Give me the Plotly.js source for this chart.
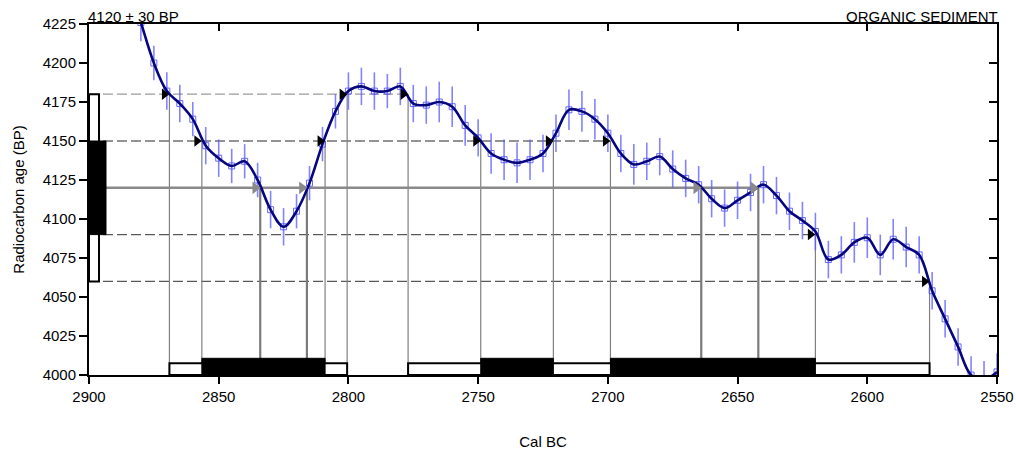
<!DOCTYPE html>
<html>
<head>
<meta charset="utf-8">
<script src="https://cdn.plot.ly/plotly-3.0.1.min.js"></script>
<style>
  html, body { margin: 0; padding: 0; background: #fff; }
  #chart { width: 1016px; height: 450px; }
</style>
</head>
<body>
<div id="chart"></div>
<script>
// ---------- data ----------
const calBC = [2885, 2880, 2875, 2870, 2865, 2860, 2855, 2850, 2845, 2840,
               2835, 2830, 2825, 2820, 2815, 2810, 2805, 2800, 2795, 2790,
               2785, 2780, 2775, 2770, 2765, 2760, 2755, 2750, 2745, 2740,
               2735, 2730, 2725, 2720, 2715, 2710, 2705, 2700, 2695, 2690,
               2685, 2680, 2675, 2670, 2665, 2660, 2655, 2650, 2645, 2640,
               2635, 2630, 2625, 2620, 2615, 2610, 2605, 2600, 2595, 2590,
               2585, 2580, 2575, 2570, 2565, 2560, 2555, 2550];
const bpAge = [4252, 4226, 4200, 4182, 4174, 4164, 4147, 4139, 4134, 4137,
               4125, 4106, 4095, 4105, 4123, 4148, 4169, 4182, 4185, 4182,
               4182, 4185, 4174, 4173, 4175, 4172, 4160, 4152, 4142, 4138,
               4136, 4138, 4142, 4155, 4170, 4169, 4164, 4155, 4142, 4135,
               4137, 4140, 4132, 4126, 4122, 4113, 4107, 4112, 4117, 4122,
               4115, 4105, 4099, 4092, 4074, 4077, 4085, 4088, 4077, 4087,
               4082, 4077, 4054, 4036, 4018, 4000, 3997, 4002];
const bpErr = [12, 12, 11, 12, 12, 11, 12, 12, 11, 11,
               11, 12, 12, 11, 11, 11, 11, 12, 12, 12,
               11, 12, 12, 12, 13, 13, 13, 12, 13, 13,
               13, 13, 12, 12, 13, 13, 13, 12, 12, 13,
               12, 12, 12, 12, 12, 12, 12, 12, 12, 12,
               12, 12, 12, 12, 12, 12, 13, 13, 13, 13,
               13, 12, 12, 12, 12, 12, 12, 12];

const sampleAge = 4120;
const sampleErr = 30;
const sampleLabel = sampleAge + ' \u00B1 ' + sampleErr + ' BP';
const materialLabel = 'ORGANIC SEDIMENT';

// range boundaries (cal BC) and the radiocarbon level where each is met
const sig2Bounds = [2869, 2800.5, 2777, 2576];
const sig2Levels = [4180, 4180, 4180, 4060];
const sig1Bounds = [2856.5, 2809, 2749, 2721, 2699, 2620];
const sig1Levels = [4150, 4150, 4150, 4150, 4150, 4090];
// intercepts of the measured age with the curve
const interceptYears = [2834, 2816, 2664, 2642];

const xTicks = [2900, 2850, 2800, 2750, 2700, 2650, 2600, 2550];
const yTicks = [4000, 4025, 4050, 4075, 4100, 4125, 4150, 4175, 4200, 4225];

// ---------- layout constants ----------
const W = 1016, H = 450;
const M = {l: 89, r: 19, t: 24, b: 75};
const xRange = [xTicks[0], xTicks[xTicks.length - 1]];
const yRange = [yTicks[0], yTicks[yTicks.length - 1]];
const pxPerYear = (W - M.l - M.r) / Math.abs(xRange[0] - xRange[1]);
const pxToYears = px => px / pxPerYear;
const FONT = 'Liberation Sans, Arial, Helvetica, sans-serif';
const arrowSize = 10;

// ---------- shapes ----------
const shapes = [];
const levels = [sampleAge + 2 * sampleErr, sampleAge + sampleErr,
                sampleAge - sampleErr, sampleAge - 2 * sampleErr];
const levelColors = ['#9c9c9c', '#707070', '#585858', '#585858'];
const allBounds = sig2Bounds.concat(sig1Bounds);
const allLevels = sig2Levels.concat(sig1Levels);

// dashed horizontal sigma levels (to the right-most crossing)
levels.forEach((lv, k) => {
  const xs = allBounds.filter((b, i) => allLevels[i] === lv);
  if (!xs.length) return;
  shapes.push({type: 'line', layer: 'below', xref: 'x', yref: 'y',
    x0: xRange[0], x1: Math.min.apply(null, xs), y0: lv, y1: lv,
    line: {color: levelColors[k], width: 1.3, dash: '10px,4px'}});
});

// vertical boundary drop lines
allBounds.forEach((b, i) => {
  shapes.push({type: 'line', layer: 'below', xref: 'x', yref: 'y',
    x0: b, x1: b, y0: allLevels[i], y1: yRange[0],
    line: {color: '#808080', width: 1.2}});
});

// measured age line and intercept drop lines
const leftBox1W = pxToYears(17), leftBox2W = pxToYears(10);
shapes.push({type: 'line', layer: 'below', xref: 'x', yref: 'y',
  x0: xRange[0] - leftBox1W, x1: Math.min.apply(null, interceptYears),
  y0: sampleAge, y1: sampleAge, line: {color: '#8a8a8a', width: 2.5}});
interceptYears.forEach(x => {
  shapes.push({type: 'line', layer: 'below', xref: 'x', yref: 'y',
    x0: x, x1: x, y0: sampleAge, y1: yRange[0],
    line: {color: '#7a7a7a', width: 2.2}});
});

// bottom range boxes: open = 2 sigma, filled = 1 sigma
for (let i = 0; i < sig2Bounds.length; i += 2) {
  shapes.push({type: 'rect', layer: 'below', xref: 'x', yref: 'y',
    x0: sig2Bounds[i], x1: sig2Bounds[i + 1], y0: yRange[0], y1: yRange[0] + 7.5,
    fillcolor: '#ffffff', line: {color: '#000000', width: 2}});
}
for (let i = 0; i < sig1Bounds.length; i += 2) {
  shapes.push({type: 'rect', layer: 'below', xref: 'x', yref: 'y',
    x0: sig1Bounds[i], x1: sig1Bounds[i + 1], y0: yRange[0], y1: yRange[0] + 10.7,
    fillcolor: '#000000', line: {color: '#000000', width: 1}});
}

// left-hand radiocarbon age boxes
shapes.push({type: 'rect', layer: 'below', xref: 'x', yref: 'y',
  x0: xRange[0], x1: xRange[0] - leftBox2W,
  y0: sampleAge - 2 * sampleErr, y1: sampleAge + 2 * sampleErr,
  fillcolor: '#ffffff', line: {color: '#000000', width: 2}});
shapes.push({type: 'rect', layer: 'below', xref: 'x', yref: 'y',
  x0: xRange[0], x1: xRange[0] - leftBox1W,
  y0: sampleAge - sampleErr, y1: sampleAge + sampleErr,
  fillcolor: '#000000', line: {color: '#000000', width: 1}});

// ---------- traces ----------
const arrowShift = pxToYears(arrowSize / 2);
const traces = [
  { // calibration points with error bars
    x: calBC, y: bpAge, type: 'scatter', mode: 'markers',
    marker: {symbol: 'square-open', size: 6, color: 'rgba(80,80,255,0.85)', line: {width: 1}},
    error_y: {type: 'data', array: bpErr, visible: true, color: 'rgba(90,90,255,0.75)', thickness: 1.6, width: 0},
    hoverinfo: 'skip', showlegend: false
  },
  { // calibration curve
    x: calBC, y: bpAge, type: 'scatter', mode: 'lines',
    line: {color: '#06067e', width: 2.6, shape: 'spline', smoothing: 1},
    hoverinfo: 'skip', showlegend: false
  },
  { // black arrows at range boundaries
    x: allBounds.map(b => b + arrowShift), y: allLevels, type: 'scatter', mode: 'markers',
    marker: {symbol: 'triangle-right', size: arrowSize, color: '#000000'},
    hoverinfo: 'skip', showlegend: false
  },
  { // grey arrows at intercepts
    x: interceptYears.map(b => b + arrowShift), y: interceptYears.map(() => sampleAge),
    type: 'scatter', mode: 'markers',
    marker: {symbol: 'triangle-right', size: arrowSize + 1, color: '#8a8a8a'},
    hoverinfo: 'skip', showlegend: false
  },
  { // binds the mirrored frame axes
    x: calBC, y: bpAge, xaxis: 'x2', yaxis: 'y2', type: 'scatter', mode: 'none',
    hoverinfo: 'skip', showlegend: false
  }
];

const axisCommon = {
  showgrid: false, zeroline: false, showline: true, linecolor: '#000', linewidth: 2,
  tickcolor: '#000', tickwidth: 2, ticklen: 8
};

const layout = {
  width: W, height: H,
  margin: M,
  paper_bgcolor: '#fff', plot_bgcolor: '#fff',
  font: {family: FONT, size: 15, color: '#000'},
  hovermode: false,
  showlegend: false,
  xaxis: Object.assign({}, axisCommon, {
    range: xRange, tickvals: xTicks, ticktext: xTicks.map(String), ticks: 'outside', ticklen: 7,
    tickfont: {family: FONT, size: 15, color: '#000'},
    title: {text: 'Cal BC', font: {family: FONT, size: 15, color: '#000'}, standoff: 32}
  }),
  yaxis: Object.assign({}, axisCommon, {
    range: yRange, tickvals: yTicks, ticktext: yTicks.map(String), ticks: 'outside',
    tickfont: {family: FONT, size: 15, color: '#000'},
    title: {text: 'Radiocarbon age (BP)', font: {family: FONT, size: 15, color: '#000'}, standoff: 14}
  }),
  xaxis2: Object.assign({}, axisCommon, {
    range: xRange, tickvals: xTicks, ticks: 'inside', ticklen: 7, side: 'top',
    overlaying: 'x', showticklabels: false
  }),
  yaxis2: Object.assign({}, axisCommon, {
    range: yRange, tickvals: yTicks, ticks: 'inside', side: 'right',
    overlaying: 'y', showticklabels: false
  }),
  shapes: shapes,
  annotations: [
    {text: sampleLabel, xref: 'paper', yref: 'paper', x: 0, y: 1, xanchor: 'left', yanchor: 'bottom',
     showarrow: false, xshift: -3, yshift: -3, font: {family: FONT, size: 15, color: '#000'}},
    {text: materialLabel, xref: 'paper', yref: 'paper', x: 1, y: 1, xanchor: 'right', yanchor: 'bottom',
     showarrow: false, xshift: 3, yshift: -3, font: {family: FONT, size: 15, color: '#000'}}
  ]
};

Plotly.newPlot('chart', traces, layout, {staticPlot: true, displayModeBar: false});
</script>
</body>
</html>
